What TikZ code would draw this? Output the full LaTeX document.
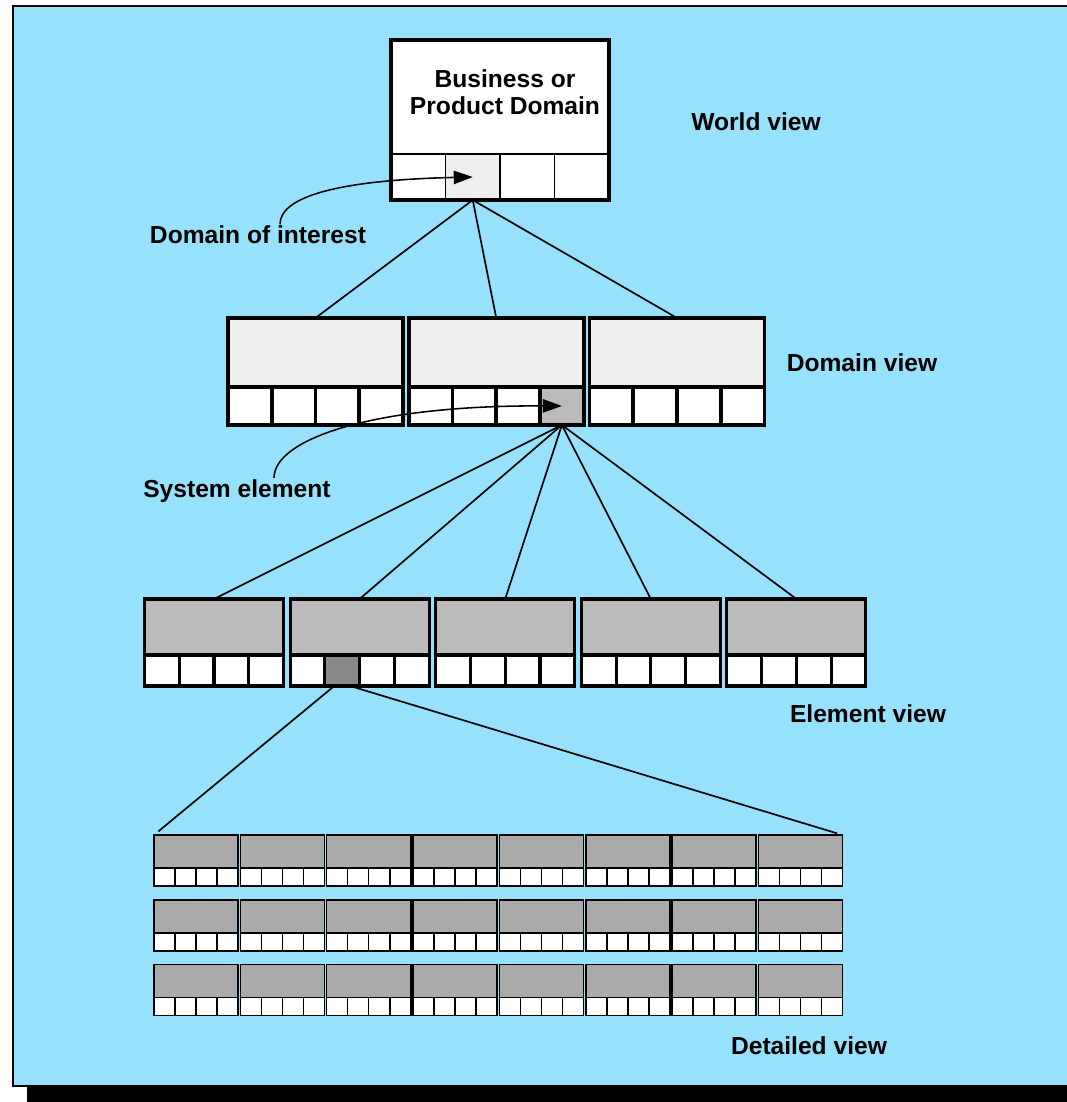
\documentclass[tikz,border=0pt]{standalone}
\usepackage{fontspec}
\setmainfont{Liberation Sans}
\usetikzlibrary{arrows.meta,positioning}

\definecolor{sky}{RGB}{150,226,252}
\definecolor{paleg}{RGB}{238,238,238}
\definecolor{midg}{RGB}{187,187,187}
\definecolor{darkg}{RGB}{136,136,136}
\definecolor{detg}{RGB}{170,170,170}

\tikzset{
  viewbox/.style={draw, inner sep=0pt, outer sep=0pt},
  cell/.style={draw, inner sep=0pt, outer sep=0pt, anchor=south west},
  lbl/.style={font=\bfseries\fontsize{17.5}{19.5}\selectfont, inner sep=1pt},
  link/.style={line width=1.2pt},
  pointer/.style={line width=1.1pt, -{Triangle[length=13.5pt,width=9.5pt]}},
}

\begin{document}
\begin{tikzpicture}[x=0.025cm, y=-0.025cm]
\useasboundingbox (0,0) rectangle (1066,1102);
% backdrop with shadow
\fill[black] (27,1086) rectangle (1080,1112);
\draw[fill=sky, line width=1.6pt] (13,6) rectangle (1080,1086);

% world view
\node[viewbox, fill=white, line width=2.8pt, minimum width=5.45cm, minimum height=4cm] (world) at (500,120) {};
\foreach \k/\f in {1/white,2/paleg,3/white,4/white}
  \node[cell, fill=\f, line width=1.2pt, minimum width=1.3625cm, minimum height=1.15cm]
    (w\k) at ([xshift={(\k-1)*1.3625cm}]world.south west) {};
\draw[line width=2.8pt] (world.north west) rectangle (world.south east);
\node[lbl, align=center] (bizname) at (505,92) {Business or\\Product Domain};
\node[lbl] (worldlbl) at (756,122) {World view};

% domain view
\foreach \i/\x/\fa/\fb/\fc/\fd in {1/315.5/white/white/white/white,
    2/496.25/white/white/white/midg, 3/677/white/white/white/white}{
  \node[viewbox, fill=paleg, line width=2.6pt, minimum width=4.375cm, minimum height=2.675cm]
    (dom\i) at (\x,371.5) {};
  \foreach \k/\f in {1/\fa,2/\fb,3/\fc,4/\fd}
    \node[cell, fill=\f, line width=2.6pt, minimum width=1.09375cm, minimum height=0.95cm]
      (dom\i-\k) at ([xshift={(\k-1)*1.09375cm}]dom\i.south west) {};
}
\node[lbl] (domlbl) at (862,363) {Domain view};

% element view
\foreach \i/\fa/\fb in {1/white/white, 2/white/darkg, 3/white/white, 4/white/white, 5/white/white}{
  \node[viewbox, fill=midg, line width=2.2pt, minimum width=3.475cm, minimum height=2.175cm]
    (el\i) at ({214+145.6*(\i-1)},642.5) {};
  \foreach \k/\f in {1/\fa,2/\fb,3/white,4/white}
    \node[cell, fill=\f, line width=2.2pt, minimum width=0.86875cm, minimum height=0.775cm]
      (el\i-\k) at ([xshift={(\k-1)*0.86875cm}]el\i.south west) {};
}
\node[lbl] (ellbl) at (868,714) {Element view};

% detailed view
\foreach \r in {1,2,3}
  \foreach \c in {1,...,8}{
    \node[viewbox, fill=detg, line width=1.1pt, minimum width=2.1cm, minimum height=1.275cm]
      (det\r-\c) at ({196+86.36*(\c-1)},{860.5+64.75*(\r-1)}) {};
    \foreach \k in {1,...,4}
      \node[cell, fill=white, line width=1.1pt, minimum width=0.525cm, minimum height=0.45cm]
        (det\r-\c-\k) at ([xshift={(\k-1)*0.525cm}]det\r-\c.south west) {};
  }
\node[lbl] (detlbl) at (809,1046) {Detailed view};

% tree links
\foreach \i in {1,2,3}
  \draw[link] (w2.south) -- (dom\i.north);
\foreach \i in {1,...,5}
  \draw[link] (dom2-4.south) -- (el\i.north);
\draw[link, shorten >=4pt] ([xshift=-0.2cm]el2-2.south) -- (det1-1.north west);
\draw[link, shorten >=4pt] ([xshift=0.2cm]el2-2.south) -- (det1-8.north east);

% pointers
\node[lbl] (interest) at (258,235) {Domain of interest};
\draw[pointer] ([xshift=0.55cm]interest.north) .. controls +(0,-28) and +(-133,3) .. (w2.center);
\node[lbl] (sysel) at (237,491) {System element};
\draw[pointer] ([xshift=0.925cm]sysel.north) .. controls +(0,-38) and +(-192,-1) .. (dom2-4.center);
\end{tikzpicture}
\end{document}
